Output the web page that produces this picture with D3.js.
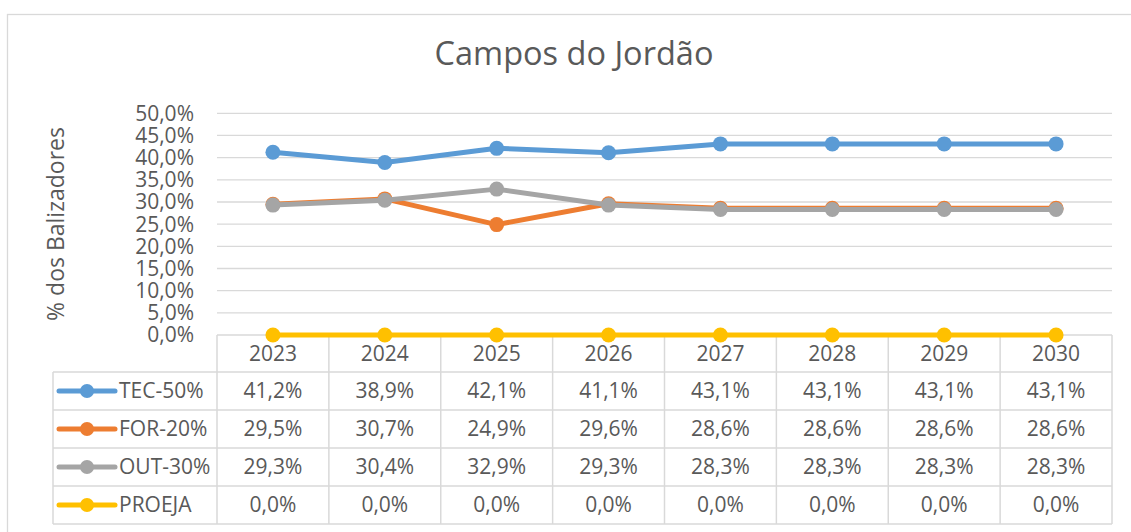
<!DOCTYPE html>
<html>
<head>
<meta charset="utf-8">
<script src="https://cdn.jsdelivr.net/npm/d3@7"></script>
<style>
  body { margin: 0; background: #fff; }
  svg text { font-family: 'Open Sans', 'Noto Sans', sans-serif; fill: #595959; }
</style>
</head>
<body>
<svg width="1131" height="532"></svg>
<script>
// chart data
const years = ['2023', '2024', '2025', '2026', '2027', '2028', '2029', '2030'];
const seriesNames = ['TEC-50%', 'FOR-20%', 'OUT-30%', 'PROEJA'];
const tec = [41.2, 38.9, 42.1, 41.1, 43.1, 43.1, 43.1, 43.1];
const forr = [29.5, 30.7, 24.9, 29.6, 28.6, 28.6, 28.6, 28.6];
const out = [29.3, 30.4, 32.9, 29.3, 28.3, 28.3, 28.3, 28.3];
const proeja = [0, 0, 0, 0, 0, 0, 0, 0];
const yTicks = [0, 5, 10, 15, 20, 25, 30, 35, 40, 45, 50];
const colors = ['#5B9BD5', '#ED7D31', '#A5A5A5', '#FFC000'];

const series = seriesNames.map((name, i) => ({
  name: name,
  values: [tec, forr, out, proeja][i],
  color: colors[i]
}));

const locale = d3.formatLocale({ decimal: ',', thousands: '.', grouping: [3], currency: ['R$', ''] });
const fmt = v => locale.format('.1f')(v) + '%';

const svg = d3.select('svg');

// outer chart border (continues beyond the picture)
svg.append('rect')
  .attr('x', 7.5).attr('y', 14.5)
  .attr('width', 1140).attr('height', 540)
  .attr('fill', 'none').attr('stroke', '#D9D9D9').attr('stroke-width', 1.3);

const x = d3.scaleBand().domain(years).range([217, 1112]);
const y = d3.scaleLinear().domain([0, 50]).range([335, 113.3]);
const rows = d3.scaleBand().domain(seriesNames).range([372, 524]);

// title
svg.append('text')
  .attr('x', 574).attr('y', 65)
  .attr('text-anchor', 'middle')
  .style('font-size', '32.5px')
  .text('Campos do Jordão');

// y axis title
svg.append('text')
  .attr('transform', 'translate(64,224) rotate(-90)')
  .attr('text-anchor', 'middle')
  .style('font-size', '23px')
  .text('% dos Balizadores');

// gridlines + tick labels
svg.append('g').selectAll('line')
  .data(yTicks.filter(d => d > 0))
  .enter().append('line')
  .attr('x1', 217).attr('x2', 1112)
  .attr('y1', d => y(d)).attr('y2', d => y(d))
  .attr('stroke', '#D9D9D9').attr('stroke-width', 1.3);

svg.append('g').selectAll('text')
  .data(yTicks)
  .enter().append('text')
  .attr('x', 194)
  .attr('y', d => y(d))
  .attr('dy', '0.35em')
  .attr('text-anchor', 'end')
  .style('font-size', '21px')
  .text(d => fmt(d));

// data table grid
const grid = svg.append('g').attr('stroke', '#D9D9D9').attr('stroke-width', 1.5);
grid.append('line').attr('x1', 217).attr('x2', 1112).attr('y1', 335).attr('y2', 335);
seriesNames.forEach(n => {
  grid.append('line').attr('x1', 53).attr('x2', 1112)
    .attr('y1', rows(n)).attr('y2', rows(n));
});
grid.append('line').attr('x1', 53).attr('x2', 1112).attr('y1', 524).attr('y2', 524);
grid.append('line').attr('x1', 53).attr('x2', 53).attr('y1', 372).attr('y2', 524);
years.forEach(yr => {
  grid.append('line').attr('x1', x(yr)).attr('x2', x(yr)).attr('y1', 335).attr('y2', 524);
});
grid.append('line').attr('x1', 1112).attr('x2', 1112).attr('y1', 335).attr('y2', 524);

// year header
svg.append('g').selectAll('text')
  .data(years)
  .enter().append('text')
  .attr('x', d => x(d) + x.bandwidth() / 2)
  .attr('y', 354)
  .attr('dy', '0.35em')
  .attr('text-anchor', 'middle')
  .style('font-size', '21px')
  .text(d => d);

// table rows
const row = svg.append('g').selectAll('g')
  .data(series)
  .enter().append('g')
  .attr('transform', d => `translate(0,${rows(d.name) + rows.bandwidth() / 2})`);

row.append('line')
  .attr('x1', 59).attr('x2', 115)
  .attr('stroke', d => d.color).attr('stroke-width', 5)
  .attr('stroke-linecap', 'round');
row.append('circle')
  .attr('cx', 87).attr('r', 7)
  .attr('fill', d => d.color);
row.append('text')
  .attr('x', 119).attr('dy', '0.35em')
  .style('font-size', '21px')
  .text(d => d.name);

row.selectAll('text.val')
  .data(d => d.values)
  .enter().append('text')
  .attr('class', 'val')
  .attr('x', (d, i) => x(years[i]) + x.bandwidth() / 2)
  .attr('dy', '0.35em')
  .attr('text-anchor', 'middle')
  .style('font-size', '21px')
  .text(d => fmt(d));

// lines + markers
const line = d3.line()
  .x((d, i) => x(years[i]) + x.bandwidth() / 2)
  .y(d => y(d));

const sg = svg.append('g').selectAll('g')
  .data(series)
  .enter().append('g');

sg.append('path')
  .attr('d', d => line(d.values))
  .attr('fill', 'none')
  .attr('stroke', d => d.color)
  .attr('stroke-width', 5)
  .attr('stroke-linejoin', 'round')
  .attr('stroke-linecap', 'round');

sg.selectAll('circle')
  .data(d => d.values.map(v => ({ v: v, color: d.color })))
  .enter().append('circle')
  .attr('cx', (d, i) => x(years[i]) + x.bandwidth() / 2)
  .attr('cy', d => y(d.v))
  .attr('r', 7.5)
  .attr('fill', d => d.color);
</script>
</body>
</html>
